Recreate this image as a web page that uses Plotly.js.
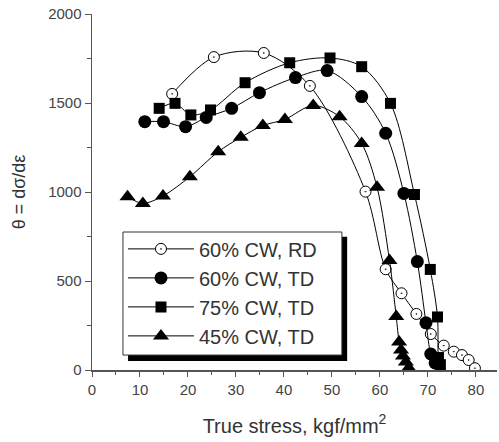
<!DOCTYPE html>
<html>
<head>
<meta charset="utf-8">
<script src="https://cdn.plot.ly/plotly-3.0.1.min.js"></script>
<style>
  html, body { margin: 0; padding: 0; background: #fff; }
  #chart { width: 499px; height: 442px; }
</style>
</head>
<body>
<div id="chart"></div>
<script>
// Work-hardening rate versus true stress for several cold-work levels
const seriesNames = ['60% CW, RD', '60% CW, TD', '75% CW, TD', '45% CW, TD'];

const rd60Stress = [16.7, 25.4, 35.8, 45.4, 57.0, 61.2, 64.5, 67.6, 70.6, 73.3, 75.4, 77.1, 78.5, 79.8];
const rd60Theta  = [1551, 1758, 1781, 1596, 1002, 566, 431, 315, 202, 137, 103, 84, 56, 10];

const td60Stress = [11.0, 14.9, 19.5, 23.8, 29.1, 34.9, 42.4, 49.0, 56.2, 61.2, 65.0, 67.8, 69.6, 70.6, 71.5];
const td60Theta  = [1395, 1395, 1367, 1419, 1470, 1558, 1643, 1682, 1536, 1330, 992, 609, 265, 90, 40];

const td75Stress = [14.0, 17.3, 20.6, 24.7, 31.9, 41.2, 49.6, 56.2, 62.2, 67.2, 70.5, 72.0, 72.2, 72.6];
const td75Theta  = [1470, 1498, 1433, 1461, 1614, 1726, 1753, 1704, 1498, 986, 565, 298, 70, 30];

const td45Stress = [7.4, 10.6, 14.8, 20.4, 26.3, 31.0, 35.6, 40.2, 46.1, 51.6, 56.2, 59.4, 62.0, 63.4, 64.0, 64.4, 64.8, 65.4, 66.0];
const td45Theta  = [974, 936, 978, 1086, 1226, 1307, 1373, 1408, 1486, 1423, 1273, 1026, 615, 300, 157, 112, 79, 45, 11];

const xTickVals = [0, 10, 20, 30, 40, 50, 60, 70, 80];
const yTickVals = [0, 500, 1000, 1500, 2000];

const lineStyle = { color: '#000', width: 1, shape: 'spline', smoothing: 0.9 };

const traces = [
  {
    x: rd60Stress, y: rd60Theta, name: seriesNames[0],
    mode: 'lines+markers', line: lineStyle,
    marker: { symbol: 'circle-dot', size: 11, color: '#fff', line: { color: '#000', width: 1 } }
  },
  {
    x: td60Stress, y: td60Theta, name: seriesNames[1],
    mode: 'lines+markers', line: lineStyle,
    marker: { symbol: 'circle', size: 13, color: '#000' }
  },
  {
    x: td75Stress, y: td75Theta, name: seriesNames[2],
    mode: 'lines+markers', line: lineStyle,
    marker: { symbol: 'square', size: 11, color: '#000' }
  },
  {
    x: td45Stress, y: td45Theta, name: seriesNames[3],
    mode: 'lines+markers', line: lineStyle,
    marker: { symbol: 'triangle-up', size: 14, color: '#000' }
  }
];

const axisFont = { family: 'Liberation Sans, Arial, sans-serif', size: 15, color: '#444' };

const layout = {
  width: 499, height: 442,
  margin: { l: 92, r: 2, t: 14, b: 72 },
  paper_bgcolor: '#fff', plot_bgcolor: '#fff',
  showlegend: true,
  font: { family: 'Liberation Sans, Arial, sans-serif', color: '#222' },
  xaxis: {
    range: [0, 84.4], tickvals: xTickVals, ticktext: xTickVals.map(String),
    ticks: 'outside', ticklen: 5, tickcolor: '#555', tickwidth: 1,
    minor: { dtick: 5, ticks: 'outside', ticklen: 3, tickcolor: '#555' },
    showline: true, linecolor: '#555', linewidth: 1.5,
    showgrid: false, zeroline: false, tickfont: axisFont,
    title: { text: 'True stress, kgf/mm<sup>2</sup>', font: { size: 20, color: '#333' }, standoff: 22 }
  },
  yaxis: {
    range: [0, 2000], tickvals: yTickVals, ticktext: yTickVals.map(String),
    ticks: 'outside', ticklen: 6, tickcolor: '#555', tickwidth: 1,
    minor: { dtick: 250, ticks: 'outside', ticklen: 4, tickcolor: '#555' },
    showline: true, linecolor: '#555', linewidth: 1.5,
    showgrid: false, zeroline: false, tickfont: axisFont,
    title: { text: 'θ = dσ/dε', font: { size: 18, color: '#333' }, standoff: 18 }
  },
  xaxis2: {
    overlaying: 'x', side: 'top', range: [0, 84.4], tickvals: xTickVals,
    showticklabels: false, ticks: 'inside', ticklen: 5, tickcolor: '#555',
    minor: { dtick: 5, ticks: 'inside', ticklen: 3, tickcolor: '#555' },
    showline: true, linecolor: '#555', linewidth: 1.5, showgrid: false, zeroline: false
  },
  yaxis2: {
    overlaying: 'y', side: 'right', range: [0, 2000], tickvals: yTickVals,
    showticklabels: false, ticks: 'inside', ticklen: 6, tickcolor: '#555',
    minor: { dtick: 250, ticks: 'inside', ticklen: 4, tickcolor: '#555' },
    showline: true, linecolor: '#555', linewidth: 1.5, showgrid: false, zeroline: false
  },
  legend: {
    x: 0.0765, y: 0.395, xanchor: 'left', yanchor: 'top',
    bgcolor: 'rgba(0,0,0,0)', borderwidth: 0,
    font: { size: 20, color: '#333' }, itemwidth: 66,
    tracegroupgap: 0
  },
  shapes: [
    // drop shadow of the legend panel
    { type: 'rect', xref: 'paper', yref: 'paper', layer: 'above',
      x0: 0.089, x1: 0.63, y0: 0.025, y1: 0.374,
      fillcolor: '#000', line: { width: 0 } },
    // legend panel
    { type: 'rect', xref: 'paper', yref: 'paper', layer: 'above',
      x0: 0.0765, x1: 0.617, y0: 0.042, y1: 0.3876,
      fillcolor: '#fff', line: { color: '#333', width: 1 } }
  ]
};

Plotly.newPlot('chart', traces, layout, { staticPlot: true, displayModeBar: false });
</script>
</body>
</html>
